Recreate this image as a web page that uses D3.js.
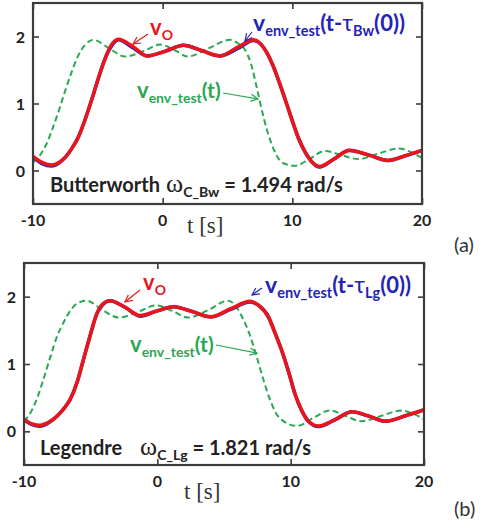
<!DOCTYPE html>
<html>
<head>
<meta charset="UTF-8">
<title>envelope response</title>
<script src="https://cdn.jsdelivr.net/npm/d3@7"></script>
<style>
  body { margin: 0; background: #fff; }
  svg { display: block; }
</style>
</head>
<body>
<div id="chart"></div>
<script>
// ticks
var xTicks = [-10, 0, 10, 20];
var yTicks = [0, 1, 2];

// (a) Butterworth  [t, v]
var greenA = [[-10,0.12],[-9.5,0.22],[-9,0.38],[-8.5,0.62],[-8,0.9],[-7.5,1.2],[-7,1.48],[-6.5,1.72],[-6,1.87],[-5.35,1.95],
  [-4.1,1.82],[-2.9,1.70],[-1.5,1.78],[-0.2,1.88],[1.0,1.79],[1.9,1.70],[3.5,1.82],[5.2,1.95],[5.8,1.9],[6.35,1.8],
  [6.8,1.6],[7.3,1.2],[7.8,0.78],[8.3,0.45],[8.8,0.22],[9.4,0.1],[10.2,0.07],[11.3,0.17],[12.5,0.29],[13.8,0.23],
  [15.1,0.17],[16.6,0.25],[18.2,0.33],[19.2,0.27],[20,0.19]];
var blueA = [[-10,0.2],[-9.3,0.1],[-8.56,0.065],[-8,0.11],[-7.5,0.2],[-7,0.33],[-6.5,0.5],[-6,0.75],[-5.5,1.04],[-5,1.35],
  [-4.5,1.64],[-4,1.84],[-3.42,1.95],[-2.3,1.83],[-1.2,1.71],[0.2,1.78],[1.6,1.87],[3.0,1.79],[4.4,1.71],[5.8,1.82],
  [7.0,1.94],[7.5,1.9],[8,1.77],[8.5,1.57],[9,1.31],[9.5,1.03],[10,0.74],[10.5,0.47],[11,0.27],[11.5,0.13],
  [12.1,0.05],[13.2,0.17],[14.4,0.30],[15.9,0.23],[17.4,0.15],[18.7,0.22],[20,0.30]];
var redA = [[-10,0.21],[-9.3,0.12],[-8.56,0.08],[-8,0.12],[-7.5,0.2],[-7,0.33],[-6.5,0.5],[-6,0.75],[-5.5,1.04],[-5,1.35],
  [-4.5,1.64],[-4,1.86],[-3.42,1.96],[-2.3,1.85],[-1.2,1.71],[0.2,1.78],[1.6,1.87],[3.0,1.79],[4.4,1.71],[5.8,1.84],
  [7.0,1.95],[7.5,1.9],[8,1.77],[8.5,1.57],[9,1.31],[9.5,1.03],[10,0.74],[10.5,0.47],[11,0.27],[11.5,0.13],
  [12.1,0.06],[13.2,0.17],[14.4,0.30],[15.9,0.23],[17.4,0.15],[18.7,0.22],[20,0.30]];

// (b) Legendre  [t, v]
var greenB = [[-10,0.15],[-9.5,0.28],[-9,0.5],[-8.5,0.8],[-8,1.12],[-7.5,1.42],[-7,1.63],[-6.5,1.8],[-6,1.9],[-5.3,1.94],
  [-4.1,1.8],[-2.9,1.69],[-1.5,1.77],[-0.1,1.87],[1.1,1.79],[2.3,1.69],[3.8,1.8],[5.3,1.94],[5.8,1.88],[6.3,1.72],
  [6.9,1.45],[7.45,1.11],[7.95,0.77],[8.45,0.47],[8.9,0.27],[9.33,0.17],[10.5,0.08],[11.7,0.2],[12.95,0.31],[14.1,0.23],
  [15.3,0.15],[16.8,0.23],[18.3,0.31],[19.2,0.26],[20,0.18]];
var blueB = [[-10,0.17],[-9.4,0.1],[-8.8,0.075],[-8.2,0.12],[-7.5,0.23],[-7,0.34],[-6.55,0.47],[-6,0.74],[-5.55,1.06],[-5,1.45],
  [-4.55,1.74],[-4.1,1.88],[-3.55,1.94],[-2.4,1.84],[-1.3,1.71],[0,1.79],[1.2,1.85],[2.6,1.78],[4.0,1.70],[5.5,1.81],
  [6.95,1.92],[7.6,1.87],[8.33,1.70],[8.85,1.45],[9.33,1.2],[9.85,0.88],[10.33,0.55],[10.85,0.3],[11.33,0.15],[12.1,0.07],
  [13.3,0.17],[14.6,0.29],[15.8,0.23],[17.1,0.15],[18.6,0.23],[20,0.32]];
var redB = [[-10,0.18],[-9.4,0.11],[-8.8,0.09],[-8.2,0.13],[-7.5,0.23],[-7,0.34],[-6.55,0.47],[-6,0.74],[-5.55,1.06],[-5,1.45],
  [-4.55,1.74],[-4.1,1.89],[-3.55,1.94],[-2.4,1.84],[-1.3,1.72],[0,1.79],[1.2,1.85],[2.6,1.78],[4.0,1.70],[5.5,1.82],
  [6.95,1.93],[7.6,1.87],[8.33,1.70],[8.85,1.45],[9.33,1.2],[9.85,0.88],[10.33,0.55],[10.85,0.3],[11.33,0.15],[12.1,0.08],
  [13.3,0.17],[14.6,0.29],[15.8,0.23],[17.1,0.15],[18.6,0.23],[20,0.32]];

var RED = "#e8151d", BLUE = "#2323b5", GREEN = "#2aa852", FRAME = "#3c3c3c";
var SANS = "Lato, 'Liberation Sans', sans-serif", SERIF = "'Liberation Serif', 'DejaVu Serif', serif";

var svg = d3.select("#chart").append("svg").attr("width", 489).attr("height", 528);

var defs = svg.append("defs");
[["arrRed", RED], ["arrBlue", BLUE], ["arrGreen", GREEN]].forEach(function(m){
  defs.append("marker").attr("id", m[0]).attr("viewBox", "0 0 10 10")
    .attr("refX", 9).attr("refY", 5).attr("markerWidth", 9).attr("markerHeight", 9)
    .attr("orient", "auto").attr("markerUnits", "userSpaceOnUse")
    .append("path").attr("d", "M1,1 L9,5 L1,9").attr("fill", "none")
    .attr("stroke", m[1]).attr("stroke-width", 1.3);
});

// rich text: segments [text, size, font, dy, color, weight]
function richText(g, x, y, segs) {
  var t = g.append("text").attr("x", x).attr("y", y);
  segs.forEach(function(s){
    t.append("tspan").text(s[0]).attr("font-size", s[1]).attr("font-family", s[2] || SANS)
      .attr("dy", s[3] || 0).attr("fill", s[4] || "#222").attr("font-weight", s[5] || "bold");
  });
  return t;
}

function panel(cfg) {
  var x = d3.scaleLinear().domain([-10, 20]).range([cfg.x0, cfg.x1]);
  var y = d3.scaleLinear().domain([-0.5, 2.5]).range([cfg.y1, cfg.y0]);
  var g = svg.append("g");
  var clipId = "clip" + cfg.id;
  defs.append("clipPath").attr("id", clipId).append("rect")
    .attr("x", cfg.x0).attr("y", cfg.y0).attr("width", cfg.x1 - cfg.x0).attr("height", cfg.y1 - cfg.y0);

  var line = d3.line().x(function(d){ return x(d[0]); }).y(function(d){ return y(d[1]); })
    .curve(d3.curveMonotoneX);
  var lines = g.append("g").attr("clip-path", "url(#" + clipId + ")");
  lines.append("path").datum(cfg.green).attr("d", line).attr("fill", "none")
    .attr("stroke", GREEN).attr("stroke-width", 2).attr("stroke-dasharray", "6,3.5");
  lines.append("path").datum(cfg.blue).attr("d", line).attr("fill", "none")
    .attr("stroke", BLUE).attr("stroke-width", 3.4);
  lines.append("path").datum(cfg.red).attr("d", line).attr("fill", "none")
    .attr("stroke", RED).attr("stroke-width", 3.6);

  // inward ticks on all four sides
  var bottom = d3.axisTop(x).tickValues(xTicks).tickSize(6).tickFormat("");
  var top = d3.axisBottom(x).tickValues(xTicks).tickSize(6).tickFormat("");
  var left = d3.axisRight(y).tickValues(yTicks).tickSize(6).tickFormat("");
  var right = d3.axisLeft(y).tickValues(yTicks).tickSize(6).tickFormat("");
  [[bottom, "translate(0," + cfg.y1 + ")"], [top, "translate(0," + cfg.y0 + ")"],
   [left, "translate(" + cfg.x0 + ",0)"], [right, "translate(" + cfg.x1 + ",0)"]].forEach(function(a){
    var ag = g.append("g").attr("transform", a[1]).call(a[0]);
    ag.select(".domain").remove();
    ag.selectAll("line").attr("stroke", FRAME).attr("stroke-width", 1.6);
  });
  g.append("rect").attr("x", cfg.x0).attr("y", cfg.y0)
    .attr("width", cfg.x1 - cfg.x0).attr("height", cfg.y1 - cfg.y0)
    .attr("fill", "none").attr("stroke", FRAME).attr("stroke-width", 2.2);

  // tick labels
  g.selectAll(".xl").data(xTicks).enter().append("text")
    .attr("x", function(d){ return x(d); }).attr("y", cfg.y1 + 22)
    .attr("text-anchor", "middle").attr("font-family", SANS).attr("font-weight", "bold")
    .attr("font-size", 16).attr("fill", "#222").text(function(d){ return d; });
  g.selectAll(".yl").data(yTicks).enter().append("text")
    .attr("x", cfg.x0 - 8).attr("y", function(d){ return y(d) + 6; })
    .attr("text-anchor", "end").attr("font-family", SANS).attr("font-weight", "bold")
    .attr("font-size", 16).attr("fill", "#222").text(function(d){ return d; });

  g.append("text").attr("x", cfg.tx).attr("y", cfg.ty).attr("font-family", SERIF)
    .attr("font-size", 23).attr("fill", "#333").text("t [s]");
  g.append("text").attr("x", 454).attr("y", cfg.ly).attr("font-family", SANS)
    .attr("font-size", 20).attr("fill", "#333").text(cfg.label);

  // annotations
  richText(g, cfg.vo[0], cfg.vo[1], [["v", 22, SANS, 0, RED], ["O", 14, SANS, 5, RED]]);
  g.append("line").attr("x1", cfg.voArr[0]).attr("y1", cfg.voArr[1]).attr("x2", cfg.voArr[2]).attr("y2", cfg.voArr[3])
    .attr("stroke", RED).attr("stroke-width", 1.2).attr("marker-end", "url(#arrRed)");

  richText(g, cfg.vb[0], cfg.vb[1], [["v", 23, SANS, 0, BLUE], ["env_test", 14.5, SANS, 5, BLUE],
    ["(t-", 22, SANS, -5, BLUE], ["\u03c4", 23, SANS, 0, BLUE, "normal"], [cfg.sub, 14.5, SANS, 5, BLUE],
    ["(0))", 22, SANS, -5, BLUE]]);
  g.append("line").attr("x1", cfg.vbArr[0]).attr("y1", cfg.vbArr[1]).attr("x2", cfg.vbArr[2]).attr("y2", cfg.vbArr[3])
    .attr("stroke", BLUE).attr("stroke-width", 1.2).attr("marker-end", "url(#arrBlue)");

  richText(g, cfg.vg[0], cfg.vg[1], [["v", 22, SANS, 0, GREEN], ["env_test", 14, SANS, 5, GREEN],
    ["(t)", 21, SANS, -5, GREEN]]);
  g.append("line").attr("x1", cfg.vgArr[0]).attr("y1", cfg.vgArr[1]).attr("x2", cfg.vgArr[2]).attr("y2", cfg.vgArr[3])
    .attr("stroke", GREEN).attr("stroke-width", 1.2).attr("marker-end", "url(#arrGreen)");

  richText(g, cfg.name[0], cfg.name[1], [[cfg.filter, 20, SANS, 0, "#222"]]);
  richText(g, cfg.om[0], cfg.om[1], [["\u03c9", 26, SERIF, 0, "#222", "normal"], ["C_" + cfg.sub, 14, SANS, 5, "#222"],
    [" = " + cfg.wc + " rad/s", 20, SANS, -5, "#222"]]);
}

panel({ id: "a", x0: 33, x1: 422, y0: 3, y1: 204, green: greenA, blue: blueA, red: redA,
  tx: 187, ty: 233, ly: 252, label: "(a)", sub: "Bw", filter: "Butterworth", wc: "1.494",
  vo: [150, 35], voArr: [148, 34, 133, 44],
  vb: [253, 31], vbArr: [252, 32, 245, 41],
  vg: [137, 98], vgArr: [223, 93, 258, 99],
  name: [50, 192], om: [166, 192] });

panel({ id: "b", x0: 24, x1: 424, y0: 263, y1: 465, green: greenB, blue: blueB, red: redB,
  tx: 184, ty: 499, ly: 516, label: "(b)", sub: "Lg", filter: "Legendre", wc: "1.821",
  vo: [143, 290], voArr: [140, 290, 125, 302],
  vb: [265, 293], vbArr: [262, 288, 252, 295],
  vg: [130, 352], vgArr: [216, 345, 257, 353],
  name: [40, 455], om: [140, 455] });
</script>
</body>
</html>
